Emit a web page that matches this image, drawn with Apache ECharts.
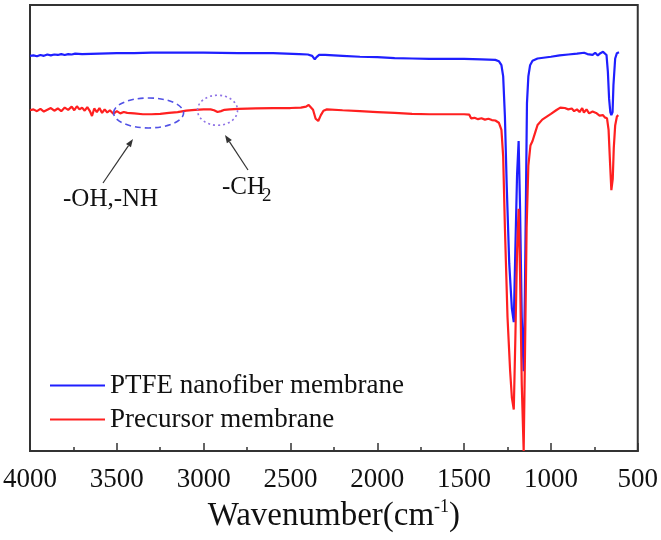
<!DOCTYPE html>
<html><head><meta charset="utf-8">
<script src="https://cdn.jsdelivr.net/npm/echarts@6/dist/echarts.min.js"></script>
<style>html,body{margin:0;padding:0;background:#fff}#c{width:661px;height:540px}</style>
</head><body><div id="c"></div>
<script>
var xTicks = [4000, 3500, 3000, 2500, 2000, 1500, 1000, 500];
var seriesNames = ['PTFE nanofiber membrane', 'Precursor membrane'];

var ptfeWn = [4000,3980,3960,3940,3920,3900,3880,3860,3840,3820,3800,3780,3760,3740,3700,3600,3500,3400,3300,3200,3000,2800,2600,2450,2400,2375,2360,2350,2335,2300,2200,2100,2000,1900,1800,1700,1600,1500,1400,1320,1300,1285,1275,1265,1255,1240,1225,1214,1205,1195,1186,1178,1168,1157,1150,1143,1138,1130,1120,1106,1077,1000,950,900,850,809,790,780,760,745,730,715,700,689,680,672,665,658,652,645,640,630,620,608];
var ptfeT = [88.6,88.7,88.5,88.8,88.6,88.9,88.7,88.9,88.8,89.0,88.8,89.0,88.9,89.1,89.0,89.1,89.2,89.2,89.3,89.3,89.3,89.2,89.2,89.0,88.9,88.6,87.8,88.3,88.8,88.8,88.6,88.4,88.3,88.1,88.0,87.9,87.9,87.9,87.8,87.7,87.4,86.5,84,75,60,42,32,28.9,45,62,69.5,55,30,17.9,35,60,78,84,86.5,87.5,88.0,88.4,88.7,88.9,89.1,89.3,89.0,89.4,88.8,89.3,88.7,89.2,89.5,89.6,88.8,85,79,76,75.3,76,82,88,89.2,89.4];

var precWn = [4000,3980,3960,3940,3920,3900,3880,3860,3840,3820,3800,3780,3760,3745,3730,3715,3700,3685,3670,3655,3643,3630,3615,3600,3585,3570,3555,3540,3520,3500,3480,3460,3440,3400,3350,3300,3250,3200,3150,3100,3050,3000,2960,2940,2920,2900,2880,2850,2800,2700,2600,2500,2440,2410,2395,2385,2370,2355,2340,2325,2310,2290,2200,2100,2000,1900,1800,1700,1600,1500,1470,1460,1440,1420,1400,1380,1360,1340,1320,1300,1285,1275,1265,1250,1235,1225,1214,1205,1195,1186,1178,1168,1157,1150,1140,1130,1118,1106,1090,1077,1050,1000,970,946,920,900,880,866,850,835,820,810,795,780,760,740,720,700,690,677,668,660,652,649,644,638,630,620,612];
var precT = [76.4,76.6,76.2,76.7,76.1,76.5,76.9,76.3,76.8,76.2,77.0,76.5,77.2,76.4,77.3,76.6,77.0,76.3,77.1,76.2,75.1,76.8,76.0,76.9,75.8,76.6,75.9,76.4,75.6,76.2,75.7,76.0,75.8,75.7,75.5,75.5,75.6,75.8,76.0,76.3,76.5,76.6,76.6,76.4,76.0,76.2,76.5,76.6,76.7,76.8,76.9,76.9,77.0,77.2,77.6,77.2,76.5,74.5,74.0,75.3,76.3,76.6,76.4,76.2,76.0,75.8,75.6,75.5,75.5,75.5,75.4,74.6,74.7,74.4,74.6,74.3,74.5,74.2,74.1,73.6,72.0,66,50,30,18,12,9.3,25,45,54.3,40,15,0,20,50,64,68.5,69.5,71.5,73.1,74.3,75.6,76.4,77.0,76.9,76.6,76.8,76.2,76.6,76.0,76.9,75.9,76.6,75.7,76.1,75.8,75.2,75.3,74.8,74.6,72,65,58.5,58.1,61,68,73,75.0,75.3];

function zip(a, b) { return a.map(function (v, i) { return [v, b[i]]; }); }

var serif = '"Liberation Serif","Times New Roman",serif';
var chart = echarts.init(document.getElementById('c'), null, { renderer: 'canvas' });
chart.setOption({
  animation: false,
  backgroundColor: '#fff',
  grid: { left: 29, right: 20, top: 5, bottom: 82, show: true, borderColor: '#333', borderWidth: 2, backgroundColor: 'transparent' },
  legend: {
    orient: 'vertical', left: 45, top: 367, itemGap: 7,
    itemWidth: 55, itemHeight: 2, icon: 'rect',
    textStyle: { fontFamily: serif, fontSize: 27, color: '#111', lineHeight: 27 },
    data: seriesNames
  },
  xAxis: {
    type: 'value', min: 500, max: 4000, interval: 500, inverse: true,
    axisLine: { show: true, lineStyle: { color: '#333', width: 2 } },
    axisTick: { show: true, inside: true, length: 8, lineStyle: { color: '#333', width: 1.5 } },
    minorTick: { show: true, splitNumber: 2, length: 4, lineStyle: { color: '#333', width: 1.5 } },
    splitLine: { show: false },
    axisLabel: { fontFamily: serif, fontSize: 27, color: '#111', margin: 15,
      formatter: function (v) { return xTicks.indexOf(v) >= 0 ? String(v) : ''; } },
    name: 'Wavenumber(cm{sup|-1})',
    nameLocation: 'middle', nameGap: 47,
    nameTextStyle: {
      fontFamily: serif, fontSize: 33, color: '#111', lineHeight: 37, verticalAlign: 'top',
      rich: { sup: { fontFamily: serif, fontSize: 18, color: '#111', verticalAlign: 'top', lineHeight: 37, padding: [0, 0, 14, 0] } }
    }
  },
  yAxis: {
    type: 'value', min: 0, max: 100,
    axisLine: { show: true, lineStyle: { color: '#333', width: 2 } },
    axisTick: { show: false }, axisLabel: { show: false }, splitLine: { show: false }
  },
  series: [
    { name: seriesNames[0], type: 'line', data: zip(ptfeWn, ptfeT), showSymbol: false, symbol: 'none',
      lineStyle: { color: '#1f1fff', width: 2.2 }, itemStyle: { color: '#1f1fff' }, z: 2 },
    { name: seriesNames[1], type: 'line', data: zip(precWn, precT), showSymbol: false, symbol: 'none',
      lineStyle: { color: '#ff2020', width: 2.2 }, itemStyle: { color: '#ff2020' }, z: 3 }
  ]
});

function arrow(x1, y1, x2, y2) {
  var ang = Math.atan2(y2 - y1, x2 - x1), L = 8, W = 3;
  var bx = x2 - L * Math.cos(ang), by = y2 - L * Math.sin(ang);
  var px = -Math.sin(ang) * W, py = Math.cos(ang) * W;
  return [
    { type: 'line', shape: { x1: x1, y1: y1, x2: bx, y2: by }, style: { stroke: '#333', lineWidth: 1.2 }, z: 10 },
    { type: 'polygon', shape: { points: [[x2, y2], [bx + px, by + py], [bx - px, by - py]] }, style: { fill: '#333' }, z: 10 }
  ];
}
var c1 = chart.convertToPixel({ gridIndex: 0 }, [3317, 75.8]);
var c2 = chart.convertToPixel({ gridIndex: 0 }, [2920, 76.4]);
var g = [
  { type: 'ellipse', shape: { cx: c1[0], cy: c1[1], rx: 35, ry: 15 }, style: { fill: 'none', stroke: '#5252e6', lineWidth: 1.6, lineDash: [6, 4] }, z: 10 },
  { type: 'ellipse', shape: { cx: c2[0], cy: c2[1], rx: 20, ry: 15 }, style: { fill: 'none', stroke: '#8f73e6', lineWidth: 1.6, lineDash: [2, 3] }, z: 10 },
  { type: 'text', left: 63, top: 187, style: { text: '-OH,-NH', font: '25px ' + serif, fill: '#111' }, z: 10 },
  { type: 'text', left: 222, top: 175, style: { text: '-CH', font: '25px ' + serif, fill: '#111' }, z: 10 },
  { type: 'text', left: 262, top: 187, style: { text: '2', font: '19px ' + serif, fill: '#111' }, z: 10 }
].concat(arrow(103, 183, 133, 139)).concat(arrow(248, 170, 225, 135));
chart.setOption({ graphic: g });
</script>
</body></html>
